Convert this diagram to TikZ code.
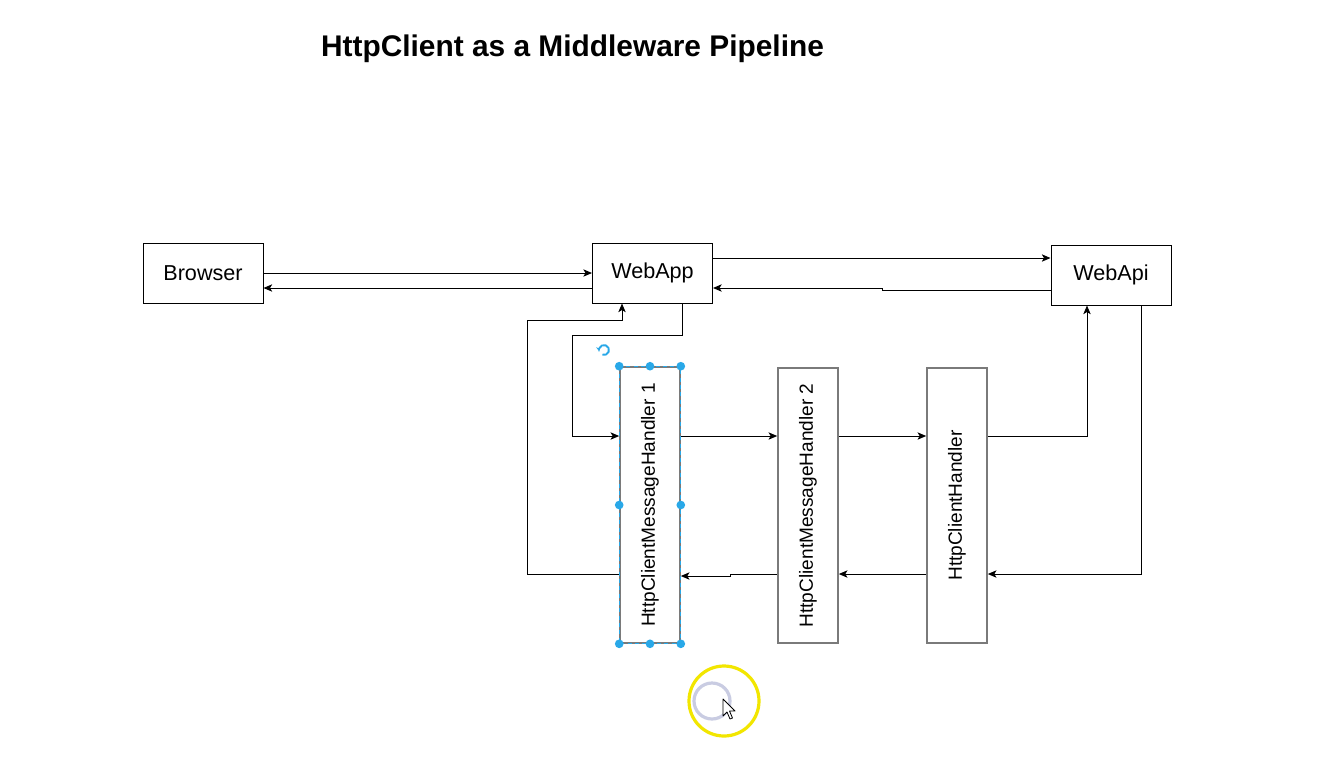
\documentclass[tikz,border=0pt]{standalone}
\usepackage{fontspec}
\setmainfont{Liberation Sans}
\usetikzlibrary{arrows.meta}
\definecolor{handle}{HTML}{29A8E8}
\definecolor{boxgray}{HTML}{7A7A7A}
\definecolor{hilite}{HTML}{F2E600}
\definecolor{ring}{HTML}{C9CCE2}
\begin{document}
\begin{tikzpicture}[x=0.75pt,y=-0.75pt,
  box/.style={draw=black,line width=0.75pt,fill=white,inner sep=0pt,minimum width=90pt,minimum height=45pt,font=\fontsize{16.2pt}{19pt}\selectfont},
  vbox/.style={draw=boxgray,line width=1.2pt,fill=white,inner sep=0pt,minimum width=45pt,minimum height=206pt},
  vtext/.style={rotate=90,font=\fontsize{14.3pt}{17pt}\selectfont},
  arr/.style={draw=black,line width=0.75pt,-{Stealth[length=6.5pt,width=5.5pt,inset=1.6pt]}},
  hd/.style={circle,fill=handle,inner sep=0pt,minimum size=6.5pt}]
\useasboundingbox[fill=white] (0,0) rectangle (1336,769);

\node[font=\bfseries\fontsize{22.4pt}{26pt}\selectfont] (title) at (572.5,49) {HttpClient as a Middleware Pipeline};

\node[box] (browser) at (203,273) {Browser};
\node[box] (webapp) at (652.5,273) {WebApp};
\node[box] (webapi) at (1111,275) {WebApi};

\node[vbox,minimum height=207pt] (h1) at (650,505) {};
\node[vtext] (h1t) at (h1.center) {HttpClientMessageHandler 1};
\node[vbox] (h2) at (808,505.5) {};
\node[vtext] (h2t) at (h2.center) {HttpClientMessageHandler 2};
\node[vbox] (hch) at (957,505.5) {};
\node[vtext] (hcht) at (hch.center) {HttpClientHandler};

% selection outline of h1
\draw[handle,line width=0.5pt,dash pattern=on 3pt off 2.5pt] (h1.north west) rectangle (h1.south east);

% connectors
\draw[arr] (browser.east) -- (webapp.west);
\draw[arr] (webapp.west |- 0,288) -- (browser.east |- 0,288);
\draw[arr] (webapp.east |- 0,258) -- (webapi.west |- 0,258);
\draw[arr] (webapi.west |- 0,290) -- (882,290) -- (882,288) -- (webapp.east |- 0,288);
\draw[arr] (webapp.south -| 682,0) |- (572,335) |- (h1.west |- 0,436);
\draw[arr] (h1.west |- 0,574) -| (527,320) -| (webapp.south -| 622,0);
\draw[arr] (h1.east |- 0,436) -- (h2.west |- 0,436);
\draw[arr] (h2.east |- 0,436) -- (hch.west |- 0,436);
\draw[arr] (hch.east |- 0,436) -| (webapi.south -| 1087,0);
\draw[arr] (webapi.south -| 1141,0) |- (hch.east |- 0,574);
\draw[arr] (hch.west |- 0,574) -- (h2.east |- 0,574);
\draw[arr] (h2.west |- 0,574) -- (730,574) -- (730,576) -- (h1.east |- 0,576);

% selection handles
\foreach \p [count=\i] in {north west,north,north east,west,east,south west,south,south east}
  \node[hd] (hd\i) at (h1.\p) {};
\draw[handle,line width=1.4pt,-{Stealth[length=3pt,width=3.5pt]}] (604,350) ++(110:5) arc[start angle=110,end angle=-190,radius=5];

% cursor highlight
\draw[ring,line width=2.4pt] (712,701) circle[radius=18];
\draw[hilite,line width=2.4pt] (724,701) circle[radius=35];
\draw[black,fill=white,line width=0.6pt,line join=round] (723,699) -- (723,716) -- (727,712) -- (730,719) -- (732.5,718) -- (729.5,711) -- (735,711) -- cycle;
\end{tikzpicture}
\end{document}
